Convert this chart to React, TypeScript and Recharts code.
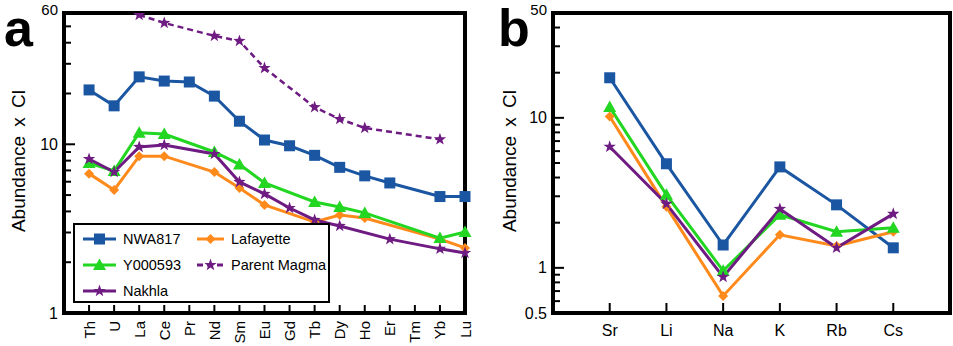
import React from "react";
import { LineChart, Line, XAxis, YAxis, ReferenceArea, Legend } from "recharts";

// ---- data ----
const reeElements = ["Th", "U", "La", "Ce", "Pr", "Nd", "Sm", "Eu", "Gd", "Tb", "Dy", "Ho", "Er", "Tm", "Yb", "Lu"];
const nwa817Ree = [21.0, 16.9, 25.1, 23.7, 23.4, 19.3, 13.7, 10.6, 9.8, 8.6, 7.3, 6.5, 5.9, null, 4.9, 4.9];
const y000593Ree = [7.75, 6.95, 11.7, 11.5, null, 9.0, 7.6, 5.9, null, 4.55, 4.25, 3.92, null, null, 2.78, 3.02];
const lafayetteRee = [6.7, 5.36, 8.5, 8.5, null, 6.85, 5.5, 4.37, null, 3.46, 3.81, 3.66, null, null, 2.74, 2.43];
const nakhlaRee = [8.18, 6.85, 9.64, 9.9, null, 8.76, 5.98, 5.08, 4.19, 3.56, 3.28, null, 2.74, null, 2.4, 2.27];
const parentMagmaRee = [null, null, 58.4, 52.4, null, 43.9, 41.0, 28.3, null, 16.6, 14.1, 12.5, null, null, 10.7, null];

const alkaliElements = ["Sr", "Li", "Na", "K", "Rb", "Cs"];
const nwa817Alk = [18.5, 4.94, 1.42, 4.71, 2.63, 1.36];
const y000593Alk = [11.8, 3.07, 0.955, 2.26, 1.74, 1.85];
const lafayetteAlk = [10.2, 2.55, 0.65, 1.66, 1.4, 1.74];
const nakhlaAlk = [6.41, 2.67, 0.87, 2.47, 1.36, 2.29];

const reeTicks = [1, 2, 3, 4, 5, 6, 7, 8, 9, 10, 20, 30, 40, 50, 60];
const alkTicks = [0.5, 0.6, 0.7, 0.8, 0.9, 1, 2, 3, 4, 5, 6, 7, 8, 9, 10, 20, 30, 40, 50];

const FONT = "Arial, 'Liberation Sans', Helvetica, sans-serif";
const BLUE = "#1b56a2";
const GREEN = "#22d622";
const ORANGE = "#ff8a1c";
const PURPLE = "#6e1b82";

const reeRows = reeElements.map((el, i) => ({
  i,
  el,
  nwa817: nwa817Ree[i],
  y000593: y000593Ree[i],
  lafayette: lafayetteRee[i],
  nakhla: nakhlaRee[i],
  parent: parentMagmaRee[i],
}));

const alkRows = alkaliElements.map((el, i) => ({
  i: i + 1,
  el,
  nwa817: nwa817Alk[i],
  y000593: y000593Alk[i],
  lafayette: lafayetteAlk[i],
  nakhla: nakhlaAlk[i],
}));

// ---- markers ----
function marker(shape: string, cx: number, cy: number, color: string, k?: any) {
  if (shape === "square") {
    return <rect key={k} x={cx - 5.5} y={cy - 5.5} width={11} height={11} fill={color} />;
  }
  if (shape === "triangle") {
    return <polygon key={k} points={`${cx},${cy - 6.5} ${cx - 6.5},${cy + 5} ${cx + 6.5},${cy + 5}`} fill={color} />;
  }
  if (shape === "diamond") {
    return <polygon key={k} points={`${cx},${cy - 5} ${cx + 5},${cy} ${cx},${cy + 5} ${cx - 5},${cy}`} fill={color} />;
  }
  // star
  const pts: string[] = [];
  for (let j = 0; j < 10; j++) {
    const r = j % 2 === 0 ? 6.5 : 2.6;
    const a = -Math.PI / 2 + (j * Math.PI) / 5;
    pts.push(`${cx + r * Math.cos(a)},${cy + r * Math.sin(a)}`);
  }
  return <polygon key={k} points={pts.join(" ")} fill={color} />;
}

const makeDot = (shape: string, color: string) => (props: any) => {
  const { cx, cy, index, value } = props;
  if (cx == null || cy == null || value == null) return <g key={`d-${index}`} />;
  return marker(shape, cx, cy, color, `d-${index}`);
};

const series = [
  { key: "nwa817", name: "NWA817", color: BLUE, shape: "square", dash: undefined as string | undefined },
  { key: "lafayette", name: "Lafayette", color: ORANGE, shape: "diamond", dash: undefined },
  { key: "y000593", name: "Y000593", color: GREEN, shape: "triangle", dash: undefined },
  { key: "parent", name: "Parent Magma", color: PURPLE, shape: "star", dash: "6 4" },
  { key: "nakhla", name: "Nakhla", color: PURPLE, shape: "star", dash: undefined },
];

// ---- ticks ----
const makeYTick = (labels: number[], majors: number[], top: number) => (props: any) => {
  const { x, y, payload } = props;
  const v = payload.value;
  const len = majors.includes(v) ? 11 : 7;
  const show = labels.includes(v);
  return (
    <g>
      {v !== top && <line x1={x} x2={x + len} y1={y} y2={y} stroke="#000" strokeWidth={2} />}
      {show && (
        <text
          x={x - 6}
          y={v === top ? y - 4 : y}
          textAnchor="end"
          dominantBaseline="central"
          fontSize={v === top ? 15 : 16}
          fontFamily={FONT}
          fill="#000"
        >
          {v}
        </text>
      )}
    </g>
  );
};

const ReeXTick = (props: any) => {
  const { x, y, payload } = props;
  const name = reeElements[payload.value] ?? "";
  return (
    <g>
      <line x1={x} x2={x} y1={y} y2={y - 8} stroke="#000" strokeWidth={2} />
      <text
        x={x}
        y={y + 8}
        transform={`rotate(-90 ${x} ${y + 8})`}
        textAnchor="end"
        dominantBaseline="central"
        fontSize={15}
        fontFamily={FONT}
        fill="#000"
      >
        {name}
      </text>
    </g>
  );
};

const AlkXTick = (props: any) => {
  const { x, y, payload } = props;
  const name = alkaliElements[payload.value - 1] ?? "";
  return (
    <g>
      <line x1={x} x2={x} y1={y} y2={y - 10} stroke="#000" strokeWidth={2} />
      <text x={x} y={y + 17} textAnchor="middle" dominantBaseline="central" fontSize={16} fontFamily={FONT} fill="#000">
        {name}
      </text>
    </g>
  );
};

const yTitle = (cx: number) => () => (
  <text
    x={cx}
    y={161}
    transform={`rotate(-90 ${cx} 161)`}
    textAnchor="middle"
    dominantBaseline="central"
    fontSize={19}
    fontFamily={FONT}
    wordSpacing={4}
    fill="#000"
  >
    Abundance x Cl
  </text>
);

// ---- legend (panel a) ----
function LegendSample({ s, w }: { s: (typeof series)[number]; w: number }) {
  return (
    <svg width={w} height={14} style={{ display: "block", flex: "none" }}>
      <line x1={1} x2={w - 1} y1={7} y2={7} stroke={s.color} strokeWidth={3} strokeDasharray={s.dash} />
      {marker(s.shape, w / 2, 7, s.color)}
    </svg>
  );
}

function LegendBox() {
  const cell = (key: string, w: number) => {
    const s = series.find((d) => d.key === key)!;
    return (
      <div style={{ display: "flex", alignItems: "center", gap: 6, height: 26, whiteSpace: "nowrap" }}>
        <LegendSample s={s} w={w} />
        <span style={{ fontSize: 14.5, fontFamily: FONT, color: "#000" }}>{s.name}</span>
      </div>
    );
  };
  return (
    <div
      style={{
        display: "grid",
        gridTemplateColumns: "114px 130px",
        padding: "1px 0 0 7px",
        boxSizing: "border-box",
        width: 257,
        height: 80,
        border: "2px solid #000",
        background: "#fff",
        overflow: "hidden",
      }}
    >
      {cell("nwa817", 35)}
      {cell("lafayette", 29)}
      {cell("y000593", 35)}
      {cell("parent", 29)}
      {cell("nakhla", 35)}
    </div>
  );
}

function PanelLetter({ letter, left }: { letter: string; left: number }) {
  return (
    <div
      style={{
        position: "absolute",
        left,
        top: 0,
        fontSize: 52,
        fontWeight: "bold",
        fontFamily: FONT,
        lineHeight: "56px",
        color: "#000",
      }}
    >
      {letter}
    </div>
  );
}

export default function App() {
  return (
    <div style={{ position: "absolute", left: 0, top: 0, width: 953, height: 346, background: "#fff", overflow: "hidden" }}>
      <div style={{ position: "absolute", left: 0, top: 0 }}>
        <LineChart width={478} height={346} data={reeRows} margin={{ top: 13, right: 13, bottom: 0, left: 0 }}>
          <XAxis
            type="number"
            dataKey="i"
            domain={[-1, 15]}
            ticks={reeElements.map((_, i) => i)}
            interval={0}
            height={33}
            axisLine={false}
            tickLine={false}
            tickSize={0}
            tickMargin={0}
            tick={ReeXTick}
          />
          <YAxis
            scale="log"
            domain={[1, 60]}
            allowDataOverflow
            ticks={reeTicks}
            interval={0}
            width={64}
            axisLine={false}
            tickLine={false}
            tickSize={0}
            tickMargin={0}
            tick={makeYTick([1, 10, 60], [1, 10], 60)}
            label={{ content: yTitle(18) }}
          />
          <ReferenceArea x1={-1} x2={15} y1={1} y2={60} fill="none" stroke="#000" strokeWidth={4} ifOverflow="visible" />
          {series.map((s) => (
            <Line
              key={s.key}
              dataKey={s.key}
              name={s.name}
              stroke={s.color}
              strokeWidth={s.dash ? 2.5 : 3}
              strokeDasharray={s.dash}
              connectNulls
              dot={makeDot(s.shape, s.color)}
              activeDot={false}
              isAnimationActive={false}
            />
          ))}
          <Legend
            layout="horizontal"
            verticalAlign="middle"
            align="center"
            content={() => <LegendBox />}
            wrapperStyle={{ position: "absolute", left: 73, top: 223, width: 257, height: 80 }}
          />
        </LineChart>
      </div>

      <div style={{ position: "absolute", left: 480, top: 0 }}>
        <LineChart width={473} height={346} data={alkRows} margin={{ top: 13, right: 3, bottom: 0, left: 0 }}>
          <XAxis
            type="number"
            dataKey="i"
            domain={[0, 7]}
            ticks={[1, 2, 3, 4, 5, 6]}
            interval={0}
            height={33}
            axisLine={false}
            tickLine={false}
            tickSize={0}
            tickMargin={0}
            tick={AlkXTick}
          />
          <YAxis
            scale="log"
            domain={[0.5, 50]}
            allowDataOverflow
            ticks={alkTicks}
            interval={0}
            width={73}
            axisLine={false}
            tickLine={false}
            tickSize={0}
            tickMargin={0}
            tick={makeYTick([0.5, 1, 10, 50], [1, 10], 50)}
            label={{ content: yTitle(29) }}
          />
          <ReferenceArea x1={0} x2={7} y1={0.5} y2={50} fill="none" stroke="#000" strokeWidth={4} ifOverflow="visible" />
          {series
            .filter((s) => s.key !== "parent")
            .map((s) => (
              <Line
                key={s.key}
                dataKey={s.key}
                name={s.name}
                stroke={s.color}
                strokeWidth={3}
                dot={makeDot(s.shape, s.color)}
                activeDot={false}
                isAnimationActive={false}
              />
            ))}
        </LineChart>
      </div>

      <PanelLetter letter="a" left={4} />
      <PanelLetter letter="b" left={498} />
    </div>
  );
}
